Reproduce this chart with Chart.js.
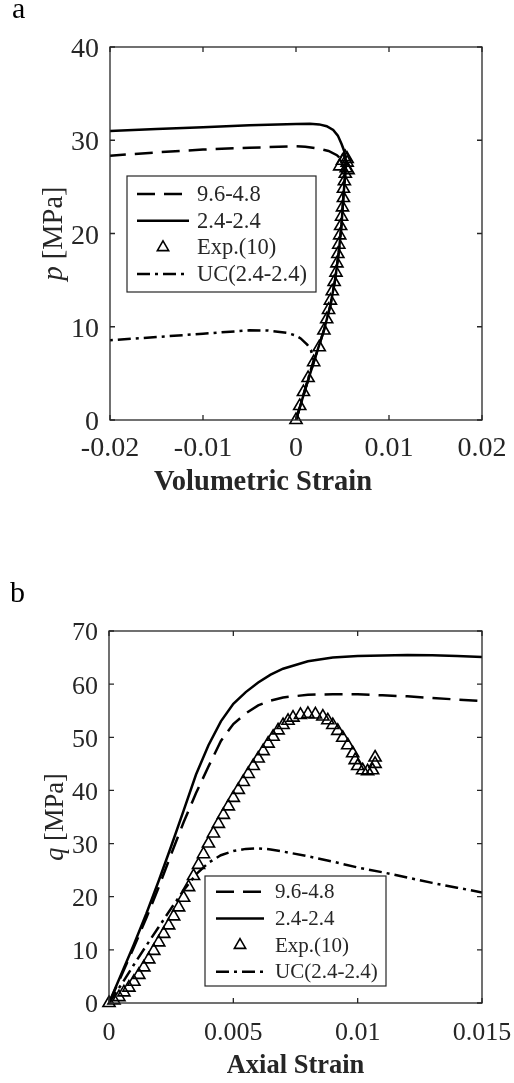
<!DOCTYPE html>
<html>
<head>
<meta charset="utf-8">
<script src="https://cdn.jsdelivr.net/npm/chart.js@4.4.1/dist/chart.umd.min.js"></script>
<style>
  html, body { margin: 0; padding: 0; background: #fff; }
  #wrap { position: relative; width: 514px; height: 1083px; }
  .panel { position: absolute; left: 0; width: 514px; }
  #panelA { top: 0; height: 540px; }
  #panelB { top: 540px; height: 543px; }
</style>
</head>
<body>
<div id="wrap">
  <div class="panel" id="panelA"><canvas id="chartA"></canvas></div>
  <div class="panel" id="panelB"><canvas id="chartB"></canvas></div>
</div>
<script>
// ---- Panel a : p vs volumetric strain ----
const volTicks = [-0.02, -0.01, 0, 0.01, 0.02];
const pTicks = [0, 10, 20, 30, 40];

const vol_96_48 = [0, 0.001, 0.002, 0.003, 0.0037, 0.0042, 0.0046, 0.0049, 0.0051, 0.0053, 0.0051, 0.0048, 0.0044, 0.0035, 0.0025, 0.001, 0, -0.005, -0.01, -0.015, -0.02];
const p_96_48 = [0, 3.3, 6.5, 9.6, 12.3, 15, 18, 21, 24, 26.5, 27.4, 28, 28.4, 28.85, 29.1, 29.3, 29.35, 29.2, 29.0, 28.7, 28.35];

const vol_24_24 = [0, 0.001, 0.002, 0.003, 0.0037, 0.0042, 0.0046, 0.0049, 0.0051, 0.0053, 0.0054, 0.0052, 0.0049, 0.0045, 0.004, 0.0033, 0.0025, 0.0015, 0, -0.005, -0.01, -0.015, -0.02];
const p_24_24 = [0, 3.3, 6.5, 9.6, 12.3, 15, 18, 21, 24, 26.5, 27.5, 28.8, 29.6, 30.5, 31.1, 31.5, 31.7, 31.78, 31.75, 31.6, 31.4, 31.2, 31.0];

const volExpA = [0, 0.0004, 0.0008, 0.0013, 0.0019, 0.0025, 0.003, 0.0033, 0.0035, 0.0037, 0.0039, 0.0041, 0.0043, 0.0044, 0.0045, 0.0046, 0.0047, 0.0048, 0.0049, 0.005, 0.0051, 0.0051, 0.0052, 0.0053, 0.0054, 0.0055, 0.0056, 0.0053, 0.005, 0.0047, 0.0055];
const pExpA = [0, 1.5, 3, 4.5, 6.2, 7.8, 9.6, 10.8, 11.8, 12.8, 13.8, 14.8, 15.8, 16.8, 17.8, 18.8, 19.8, 20.8, 21.8, 22.8, 23.8, 24.8, 25.6, 26.4, 27.0, 27.6, 26.8, 28.2, 27.8, 27.2, 28.0];

const vol_UC = [0, 0.001, 0.0019, 0.0016, 0.0012, 0.0005, 0, -0.001, -0.003, -0.005, -0.01, -0.015, -0.02];
const p_UC = [0, 3.4, 6.4, 7.5, 8.1, 8.75, 9.05, 9.35, 9.6, 9.62, 9.25, 8.9, 8.55];

// ---- Panel b : q vs axial strain ----
const axTicks = [0, 0.005, 0.01, 0.015];
const qTicks = [0, 10, 20, 30, 40, 50, 60, 70];

const ax_96_48 = [0, 0.0005, 0.001, 0.0015, 0.002, 0.0025, 0.003, 0.0035, 0.004, 0.0045, 0.005, 0.0055, 0.006, 0.0065, 0.007, 0.008, 0.009, 0.01, 0.011, 0.012, 0.013, 0.014, 0.015];
const q_96_48 = [0, 5.2, 10.5, 16, 21.8, 28, 34, 39.5, 44.5, 49.3, 52.5, 54.5, 56, 56.9, 57.5, 58, 58.1, 58.1, 57.9, 57.7, 57.4, 57.1, 56.8];

const ax_24_24 = [0, 0.0005, 0.001, 0.0015, 0.002, 0.0025, 0.003, 0.0035, 0.004, 0.0045, 0.005, 0.0055, 0.006, 0.0065, 0.007, 0.008, 0.009, 0.01, 0.011, 0.012, 0.013, 0.014, 0.015];
const q_24_24 = [0, 5.5, 11, 16.8, 23, 29.5, 36.2, 43, 48.5, 53, 56.3, 58.5, 60.3, 61.8, 62.9, 64.3, 65.0, 65.3, 65.4, 65.5, 65.45, 65.3, 65.1];

const axExpB = [0, 0.0002, 0.0004, 0.0006, 0.0008, 0.001, 0.0012, 0.0014, 0.0016, 0.0018, 0.002, 0.0022, 0.0024, 0.0026, 0.0028, 0.003, 0.0032, 0.0034, 0.0036, 0.0038, 0.004, 0.0042, 0.0044, 0.0046, 0.0048, 0.005, 0.0052, 0.0054, 0.0056, 0.0058, 0.006, 0.0062, 0.0064, 0.0066, 0.0068, 0.007, 0.0072, 0.0074, 0.0077, 0.008, 0.0083, 0.0086, 0.0088, 0.009, 0.0092, 0.0094, 0.0096, 0.0098, 0.0099, 0.01, 0.0102, 0.0104, 0.0106, 0.0107, 0.0107];
const qExpB = [0, 0.5, 1.1, 2.0, 2.9, 4.0, 5.3, 6.7, 8.2, 9.8, 11.4, 13.0, 14.6, 16.3, 18.0, 19.8, 21.8, 23.9, 26.0, 28.0, 30.0, 31.9, 33.7, 35.4, 37.0, 38.6, 40.1, 41.6, 43.1, 44.6, 46.0, 47.4, 48.8, 50.1, 51.3, 52.3, 53.1, 53.7, 54.2, 54.4, 54.3, 53.9, 53.2, 52.3, 51.2, 49.9, 48.5, 47.0, 45.7, 44.6, 43.8, 43.6, 43.8, 45.0, 46.2];

const ax_UC = [0, 0.0005, 0.001, 0.0015, 0.002, 0.0025, 0.003, 0.0035, 0.004, 0.0045, 0.005, 0.0055, 0.006, 0.0065, 0.007, 0.008, 0.009, 0.01, 0.011, 0.012, 0.013, 0.014, 0.015];
const q_UC = [0, 3.5, 7.2, 10.8, 14.3, 17.8, 21.2, 24.2, 26.4, 27.8, 28.6, 29.0, 29.1, 28.9, 28.5, 27.6, 26.6, 25.5, 24.6, 23.6, 22.6, 21.7, 20.8];

const seriesLabels = ["9.6-4.8", "2.4-2.4", "Exp.(10)", "UC(2.4-2.4)"];

const INK = "#262626";
const SERIF = "'Liberation Serif', 'Times New Roman', serif";

function toPoints(xs, ys) {
  return xs.map((x, i) => ({ x: x, y: ys[i] }));
}

function fmtTick(v) {
  return String(Math.round(v * 1000) / 1000);
}

function buildDatasets(set) {
  const line = { showLine: true, pointRadius: 0, borderColor: "#000", borderWidth: 2.5, fill: false };
  return [
    { ...line, label: seriesLabels[0], data: toPoints(set[0][0], set[0][1]), borderDash: [18, 9] },
    { ...line, label: seriesLabels[1], data: toPoints(set[1][0], set[1][1]) },
    {
      label: seriesLabels[2],
      data: toPoints(set[2][0], set[2][1]),
      showLine: false,
      pointStyle: "triangle",
      pointRadius: 7,
      pointBorderWidth: 1.6,
      pointBorderColor: "#000",
      pointBackgroundColor: "rgba(0,0,0,0)",
      clip: false,
    },
    { ...line, label: seriesLabels[3], data: toPoints(set[3][0], set[3][1]), borderDash: [13, 5, 3, 5] },
  ];
}

/** Box, inward ticks, tick labels, titles, panel letter and the boxed legend */
const framePlugin = {
  id: "frame",
  afterDraw(chart, args, opts) {
    const { ctx, chartArea: a, scales } = chart;
    const fs = opts.fontSize;
    ctx.save();
    ctx.strokeStyle = INK;
    ctx.lineWidth = 1.3;
    ctx.strokeRect(a.left, a.top, a.right - a.left, a.bottom - a.top);

    const len = 5;
    ctx.beginPath();
    scales.x.ticks.forEach((t) => {
      const px = scales.x.getPixelForValue(t.value);
      ctx.moveTo(px, a.bottom); ctx.lineTo(px, a.bottom - len);
      ctx.moveTo(px, a.top); ctx.lineTo(px, a.top + len);
    });
    scales.y.ticks.forEach((t) => {
      const py = scales.y.getPixelForValue(t.value);
      ctx.moveTo(a.left, py); ctx.lineTo(a.left + len, py);
      ctx.moveTo(a.right, py); ctx.lineTo(a.right - len, py);
    });
    ctx.stroke();

    // tick labels
    ctx.fillStyle = INK;
    ctx.font = `${fs}px ${SERIF}`;
    ctx.textBaseline = "alphabetic";
    ctx.textAlign = "center";
    scales.x.ticks.forEach((t) => {
      ctx.fillText(fmtTick(t.value), scales.x.getPixelForValue(t.value), a.bottom + opts.xTickGap);
    });
    ctx.textAlign = "right";
    scales.y.ticks.forEach((t) => {
      ctx.fillText(fmtTick(t.value), a.left - 11, scales.y.getPixelForValue(t.value) + fs * 0.36);
    });

    // panel letter
    ctx.fillStyle = "#000";
    ctx.font = `30px ${SERIF}`;
    ctx.textAlign = "left";
    ctx.fillText(opts.panel, opts.panelX, opts.panelY);

    // x title
    ctx.fillStyle = INK;
    ctx.font = `bold ${opts.titleSize}px ${SERIF}`;
    ctx.textAlign = "center";
    ctx.fillText(opts.xTitle, (a.left + a.right) / 2 + opts.xTitleShift, a.bottom + opts.xTitleGap);

    // y title: italic symbol + unit
    const sym = opts.ySymbol, unit = " [MPa]";
    const fItal = `italic ${opts.titleSize}px ${SERIF}`, fReg = `${opts.titleSize}px ${SERIF}`;
    ctx.font = fItal;
    const w1 = ctx.measureText(sym).width;
    ctx.font = fReg;
    const w2 = ctx.measureText(unit).width;
    ctx.translate(opts.yTitleX, (a.top + a.bottom) / 2);
    ctx.rotate(-Math.PI / 2);
    ctx.textAlign = "left";
    ctx.font = fItal;
    ctx.fillText(sym, -(w1 + w2) / 2, 0);
    ctx.font = fReg;
    ctx.fillText(unit, -(w1 + w2) / 2 + w1, 0);
    ctx.setTransform(1, 0, 0, 1, 0, 0);

    // legend
    const L = opts.legend;
    ctx.fillStyle = "#fff";
    ctx.fillRect(L.x, L.y, L.w, L.h);
    ctx.strokeStyle = INK;
    ctx.lineWidth = 1.2;
    ctx.strokeRect(L.x, L.y, L.w, L.h);
    chart.data.datasets.forEach((ds, i) => {
      const cy = L.y + L.first + i * L.row;
      const x0 = L.x + L.sampleX, x1 = x0 + L.sampleW;
      ctx.strokeStyle = "#000";
      if (ds.showLine) {
        ctx.lineWidth = 2.5;
        ctx.setLineDash(ds.borderDash || []);
        ctx.beginPath();
        ctx.moveTo(x0, cy); ctx.lineTo(x1, cy);
        ctx.stroke();
        ctx.setLineDash([]);
      } else {
        const cx = (x0 + x1) / 2, r = 6.5;
        ctx.lineWidth = 1.6;
        ctx.beginPath();
        ctx.moveTo(cx, cy - r);
        ctx.lineTo(cx + r * 0.87, cy + r * 0.5);
        ctx.lineTo(cx - r * 0.87, cy + r * 0.5);
        ctx.closePath();
        ctx.stroke();
      }
      ctx.fillStyle = INK;
      ctx.font = `${L.fontSize}px ${SERIF}`;
      ctx.textAlign = "left";
      ctx.textBaseline = "middle";
      ctx.fillText(ds.label, L.x + L.textX, cy + 1);
      ctx.textBaseline = "alphabetic";
    });
    ctx.restore();
  },
};

function makeChart(canvasId, cfg) {
  return new Chart(document.getElementById(canvasId), {
    type: "scatter",
    data: { datasets: buildDatasets(cfg.series) },
    options: {
      responsive: true,
      maintainAspectRatio: false,
      animation: false,
      layout: { padding: { top: cfg.padTop, right: cfg.padRight, left: 0, bottom: 0 } },
      scales: {
        x: {
          type: "linear",
          min: cfg.xTicks[0],
          max: cfg.xTicks[cfg.xTicks.length - 1],
          afterBuildTicks: (s) => { s.ticks = cfg.xTicks.map((v) => ({ value: v })); },
          afterFit: (s) => { s.height = cfg.xAxisH; },
          grid: { display: false, drawTicks: false },
          border: { display: false },
          ticks: { display: false },
        },
        y: {
          type: "linear",
          min: cfg.yTicks[0],
          max: cfg.yTicks[cfg.yTicks.length - 1],
          afterBuildTicks: (s) => { s.ticks = cfg.yTicks.map((v) => ({ value: v })); },
          afterFit: (s) => { s.width = cfg.yAxisW; },
          grid: { display: false, drawTicks: false },
          border: { display: false },
          ticks: { display: false },
        },
      },
      plugins: {
        legend: { display: false },
        tooltip: { enabled: false },
        frame: cfg.frame,
      },
    },
    plugins: [framePlugin],
  });
}

makeChart("chartA", {
  series: [[vol_96_48, p_96_48], [vol_24_24, p_24_24], [volExpA, pExpA], [vol_UC, p_UC]],
  xTicks: volTicks,
  yTicks: pTicks,
  padTop: 47,
  padRight: 32,
  xAxisH: 120,
  yAxisW: 110,
  frame: {
    panel: "a", panelX: 12, panelY: 18,
    fontSize: 28, titleSize: 28.5, xTickGap: 36,
    xTitle: "Volumetric Strain", xTitleGap: 70, xTitleShift: -33,
    ySymbol: "p", yTitleX: 62,
    legend: { x: 127, y: 176, w: 189, h: 116, first: 18, row: 26.7, sampleX: 10, sampleW: 52, textX: 70, fontSize: 22.5 },
  },
});

makeChart("chartB", {
  series: [[ax_96_48, q_96_48], [ax_24_24, q_24_24], [axExpB, qExpB], [ax_UC, q_UC]],
  xTicks: axTicks,
  yTicks: qTicks,
  padTop: 91,
  padRight: 32,
  xAxisH: 80,
  yAxisW: 109,
  frame: {
    panel: "b", panelX: 10, panelY: 62,
    fontSize: 26, titleSize: 26.5, xTickGap: 37,
    xTitle: "Axial Strain", xTitleGap: 70, xTitleShift: 0,
    ySymbol: "q", yTitleX: 63,
    legend: { x: 205, y: 336, w: 181, h: 110, first: 15.7, row: 26.7, sampleX: 11, sampleW: 48, textX: 70, fontSize: 21 },
  },
});
</script>
</body>
</html>
